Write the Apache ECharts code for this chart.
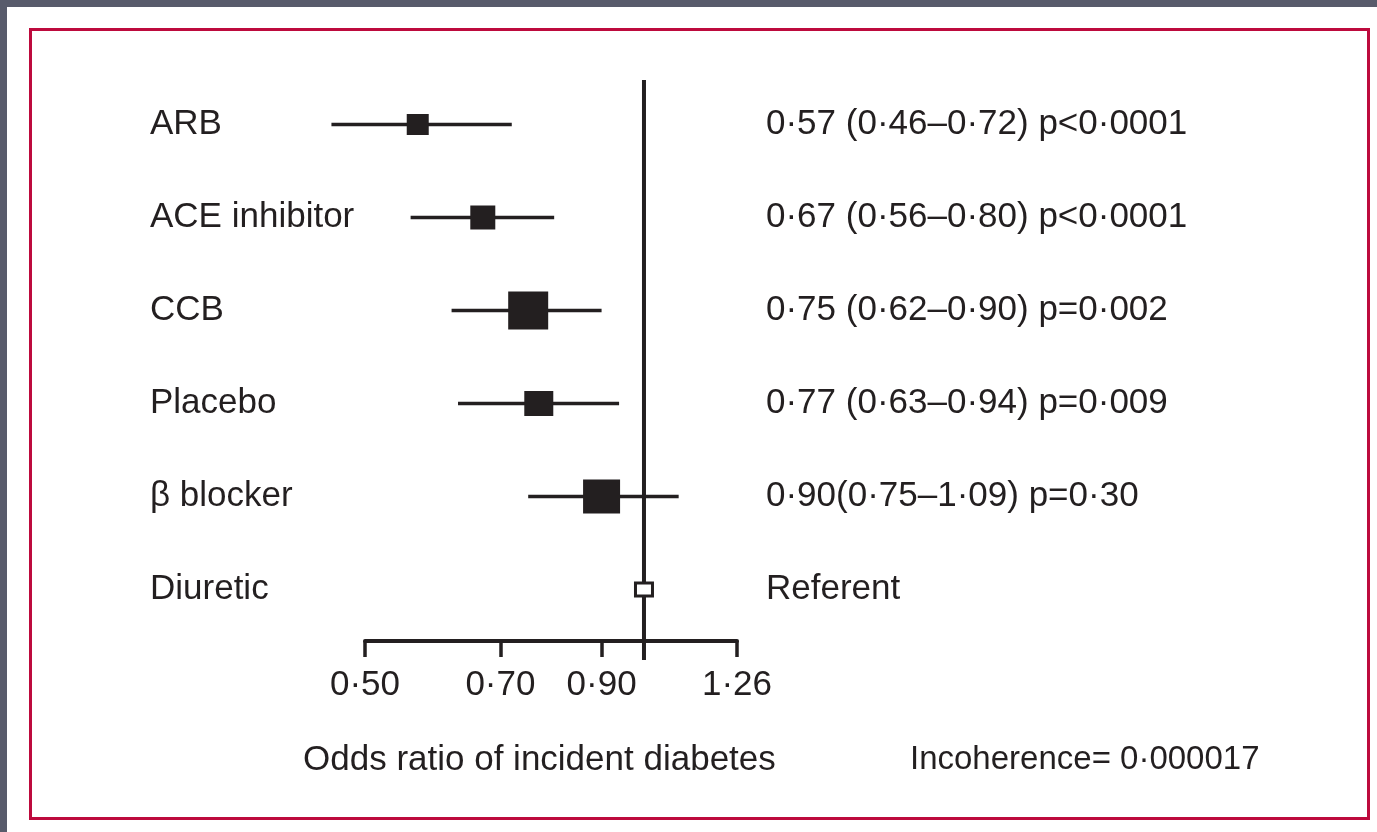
<!DOCTYPE html>
<html>
<head>
<meta charset="utf-8">
<script src="https://cdn.jsdelivr.net/npm/echarts@6/dist/echarts.min.js"></script>
<style>
html,body{margin:0;padding:0;background:#ffffff;}
#main{width:1377px;height:832px;}
</style>
</head>
<body>
<div id="main"></div>
<script>
// ---- data ----
const categories = ['ARB', 'ACE inhibitor', 'CCB', 'Placebo', 'β blocker', 'Diuretic'];
const oddsRatio = [0.57, 0.67, 0.75, 0.77, 0.90, 1.00];
const ciLower = [0.46, 0.56, 0.62, 0.63, 0.75, null];
const ciUpper = [0.72, 0.80, 0.90, 0.94, 1.09, null];
const results = [
  '0·57 (0·46–0·72) p<0·0001',
  '0·67 (0·56–0·80) p<0·0001',
  '0·75 (0·62–0·90) p=0·002',
  '0·77 (0·63–0·94) p=0·009',
  '0·90(0·75–1·09) p=0·30',
  'Referent'
];
const tickValues = [0.50, 0.70, 0.90, 1.26];
const referenceValue = 1;
const axisTitle = 'Odds ratio of incident diabetes';
const noteText = 'Incoherence= 0·000017';

// ---- styles ----
const INK = '#231f20';
const FONT = 'Liberation Sans';
const markerSize = [[22, 21], [25, 24], [40, 38], [29, 25], [37, 34], [20, 16]];
const openMarker = [false, false, false, false, false, true];

const fmt = v => Number(v).toFixed(2).replace('.', '·');

const chart = echarts.init(document.getElementById('main'), null, {renderer: 'canvas'});

const seriesData = categories.map((c, i) => [
  i, oddsRatio[i],
  ciLower[i] == null ? '-' : ciLower[i],
  ciUpper[i] == null ? '-' : ciUpper[i]
]);

chart.setOption({
  backgroundColor: '#ffffff',
  animation: false,
  graphic: [
    {type: 'rect', shape: {x: 0, y: 0, width: 1377, height: 7}, style: {fill: '#585b6b'}, silent: true},
    {type: 'rect', shape: {x: 0, y: 0, width: 7, height: 832}, style: {fill: '#585b6b'}, silent: true},
    {type: 'rect', shape: {x: 30.5, y: 29.5, width: 1338, height: 789},
      style: {fill: null, stroke: '#bd0a3d', lineWidth: 3}, silent: true},
    {type: 'text', x: 303, y: 760,
      style: {text: axisTitle, font: '35px "' + FONT + '"', fill: INK, verticalAlign: 'middle', align: 'left'}},
    {type: 'text', x: 910, y: 760,
      style: {text: noteText, font: '33px "' + FONT + '"', fill: INK, verticalAlign: 'middle', align: 'left'}}
  ],
  grid: {left: 365, right: 640, top: 78, height: 558, containLabel: false, outerBoundsMode: 'none'},
  xAxis: {
    type: 'log',
    logBase: 10,
    min: 0.5,
    max: 1.26,
    offset: 5,
    splitLine: {show: false},
    minorTick: {show: false},
    axisLine: {show: true, lineStyle: {color: INK, width: 4}},
    axisTick: {show: true, customValues: tickValues, length: 16, inside: false, lineStyle: {color: INK, width: 3.5}},
    axisLabel: {
      customValues: tickValues,
      formatter: v => fmt(v),
      fontFamily: FONT, fontSize: 35, color: INK, margin: 27
    }
  },
  yAxis: [
    {
      type: 'category',
      data: categories,
      inverse: true,
      position: 'left',
      axisLine: {show: false},
      axisTick: {show: false},
      splitLine: {show: false},
      axisLabel: {align: 'left', margin: 215, fontFamily: FONT, fontSize: 35, color: INK, interval: 0}
    },
    {
      type: 'category',
      data: results,
      inverse: true,
      position: 'right',
      axisLine: {show: false},
      axisTick: {show: false},
      splitLine: {show: false},
      axisLabel: {align: 'left', margin: 29, fontFamily: FONT, fontSize: 35, color: INK, interval: 0}
    }
  ],
  series: [
    {
      type: 'custom',
      name: 'reference',
      xAxisIndex: 0, yAxisIndex: 0,
      data: [[referenceValue, 0]],
      encode: {x: 0, y: 1},
      clip: false,
      renderItem: function (params, api) {
        const x = api.coord([api.value(0), 0])[0];
        const cs = params.coordSys;
        return {
          type: 'line',
          shape: {x1: x, y1: cs.y + 2, x2: x, y2: cs.y + cs.height + 24},
          style: {stroke: INK, lineWidth: 4}
        };
      }
    },
    {
      type: 'custom',
      name: 'odds',
      xAxisIndex: 0, yAxisIndex: 0,
      data: seriesData,
      encode: {x: [1, 2, 3], y: 0},
      clip: false,
      renderItem: function (params, api) {
        const idx = api.value(0);
        const c = api.coord([api.value(1), idx]);
        const lo = api.value(2), hi = api.value(3);
        const children = [];
        if (!isNaN(lo) && !isNaN(hi)) {
          const p1 = api.coord([lo, idx]);
          const p2 = api.coord([hi, idx]);
          children.push({
            type: 'line',
            shape: {x1: p1[0], y1: c[1], x2: p2[0], y2: c[1]},
            style: {stroke: INK, lineWidth: 3.5}
          });
        }
        const sz = markerSize[params.dataIndex];
        if (openMarker[params.dataIndex]) {
          const w = sz[0] - 3, h = sz[1] - 3;
          children.push({
            type: 'rect',
            shape: {x: c[0] - w / 2, y: c[1] - h / 2, width: w, height: h},
            style: {fill: '#ffffff', stroke: INK, lineWidth: 3}
          });
        } else {
          children.push({
            type: 'rect',
            shape: {x: c[0] - sz[0] / 2, y: c[1] - sz[1] / 2, width: sz[0], height: sz[1]},
            style: {fill: INK}
          });
        }
        return {type: 'group', children: children};
      }
    }
  ]
});
</script>
</body>
</html>
